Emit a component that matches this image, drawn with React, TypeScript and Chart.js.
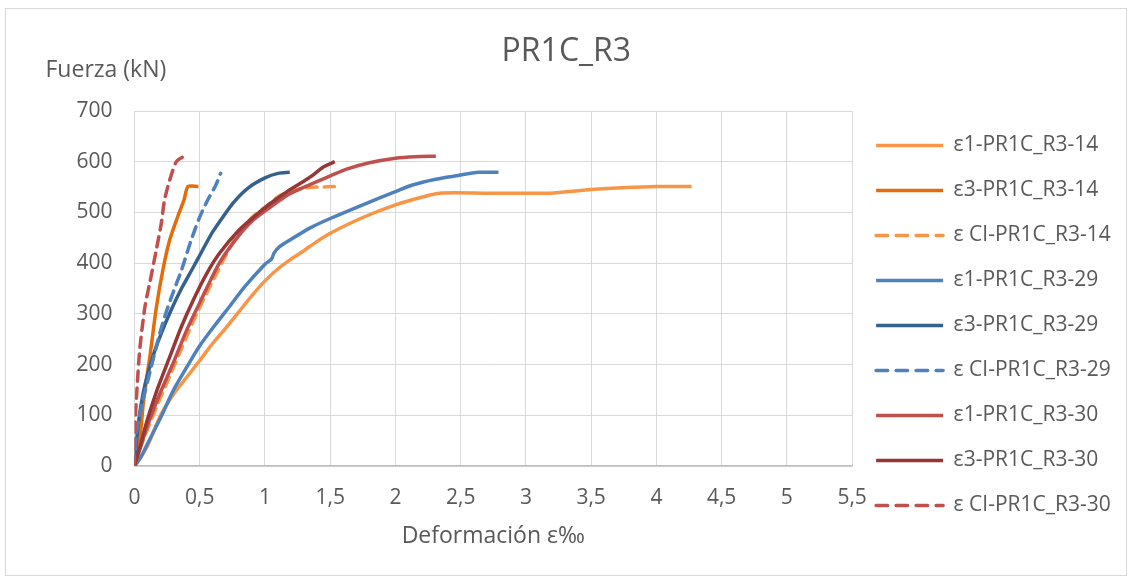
import React, { useEffect, useRef } from 'react';
import { Chart, registerables } from 'chart.js';

Chart.register(...registerables);

const FONT = '"Open Sans", "DejaVu Sans", sans-serif';
const TEXT = '#595959';

const chartTitle = 'PR1C_R3';
const yTitle = 'Fuerza (kN)';
const xTitle = 'Deformación ε‰';

const seriesNames = [
  'ε1-PR1C_R3-14',
  'ε3-PR1C_R3-14',
  'ε CI-PR1C_R3-14',
  'ε1-PR1C_R3-29',
  'ε3-PR1C_R3-29',
  'ε CI-PR1C_R3-29',
  'ε1-PR1C_R3-30',
  'ε3-PR1C_R3-30',
  'ε CI-PR1C_R3-30',
];

const seriesColors = ['#F79646', '#E46C0A', '#F79646', '#4F81BD', '#35618F', '#4F81BD', '#C0504D', '#953735', '#C0504D'];
const seriesDashed = [false, false, true, false, false, true, false, false, true];

// [deformation ‰, force kN]
const e1_14: [number, number][] = [
  [0, 0], [0.05, 18], [0.1, 40], [0.2, 100], [0.3, 142], [0.4, 175], [0.5, 208], [0.6, 242], [0.7, 272],
  [0.8, 304], [0.9, 336], [1.0, 365], [1.1, 389], [1.2, 408], [1.3, 425], [1.4, 443], [1.5, 459],
  [1.75, 490], [2.0, 515], [2.2, 530], [2.34, 538], [2.7, 538], [3.18, 538], [3.5, 545], [3.77, 549],
  [4.0, 551], [4.27, 551],
];
const e3_14: [number, number][] = [
  [0, 0], [0.04, 50], [0.07, 130], [0.12, 220], [0.166, 310], [0.217, 386], [0.27, 446], [0.33, 491],
  [0.38, 525], [0.41, 551], [0.49, 551],
];
const ci_14: [number, number][] = [
  [0, 0], [0.05, 40], [0.17, 117], [0.3, 195], [0.45, 285], [0.6, 365], [0.78, 452], [0.9, 490],
  [1.0, 510], [1.12, 534], [1.3, 548], [1.54, 551],
];
const e1_29: [number, number][] = [
  [0, 0], [0.05, 18], [0.1, 44], [0.2, 95], [0.3, 150], [0.41, 199], [0.5, 237], [0.6, 272], [0.73, 315],
  [0.85, 355], [1.0, 398], [1.05, 408], [1.07, 420], [1.11, 432], [1.2, 447], [1.35, 470], [1.5, 488],
  [1.75, 515], [2.0, 541], [2.13, 554], [2.3, 565], [2.5, 574], [2.64, 579], [2.79, 579],
];
const e3_29: [number, number][] = [
  [0, 0], [0.02, 60], [0.04, 104], [0.08, 160], [0.14, 215], [0.2, 258], [0.28, 307], [0.36, 350],
  [0.44, 387], [0.52, 425], [0.6, 462], [0.68, 492], [0.76, 520], [0.87, 548], [1.0, 568], [1.1, 577], [1.19, 579],
];
const ci_29: [number, number][] = [
  [0, 0], [0.014, 64], [0.065, 130], [0.129, 196], [0.193, 261], [0.245, 305], [0.3, 345], [0.36, 386],
  [0.435, 446], [0.5, 491], [0.56, 524], [0.62, 552], [0.66, 577],
];
const e1_30: [number, number][] = [
  [0, 0], [0.1, 80], [0.195, 143], [0.3, 205], [0.4, 268], [0.5, 322], [0.65, 400], [0.78, 448],
  [0.91, 485], [1.05, 512], [1.17, 534], [1.3, 550], [1.5, 572], [1.62, 585], [1.8, 598], [2.0, 607],
  [2.15, 610], [2.31, 611],
];
const e3_30: [number, number][] = [
  [0, 0], [0.05, 45], [0.09, 84], [0.18, 155], [0.27, 215], [0.36, 275], [0.45, 327], [0.55, 378],
  [0.65, 419], [0.8, 465], [0.96, 501], [1.08, 525], [1.17, 541], [1.3, 562], [1.37, 574], [1.45, 590], [1.535, 600],
];
const ci_30: [number, number][] = [
  [0, 0], [0.002, 65], [0.014, 130], [0.04, 229], [0.08, 314], [0.116, 360], [0.167, 426], [0.205, 478],
  [0.23, 524], [0.27, 564], [0.32, 600], [0.36, 608], [0.41, 613],
];

const seriesData = [e1_14, e3_14, ci_14, e1_29, e3_29, ci_29, e1_30, e3_30, ci_30];

const xMin = 0;
const xMax = 5.5;
const xStep = 0.5;
const yMin = 0;
const yMax = 700;
const yStep = 100;

const lineDash = [10, 7];
const legendDash = [11.5, 8.5];

const yTitlePlugin = {
  id: 'yTitleHorizontal',
  afterDraw(chart: any) {
    const { ctx, chartArea } = chart;
    ctx.save();
    ctx.font = `23px ${FONT}`;
    ctx.fillStyle = TEXT;
    ctx.textAlign = 'left';
    ctx.textBaseline = 'middle';
    ctx.fillText(yTitle, chartArea.left - 89, chartArea.top - 40.5);
    ctx.restore();
  },
};

export default function App() {
  const ref = useRef<HTMLCanvasElement>(null);

  useEffect(() => {
    document.body.style.margin = '0';
    const n = seriesNames.length;
    const datasets = seriesNames.map((name, i) => ({
      label: name,
      data: seriesData[i].map(([x, y]) => ({ x, y })),
      borderColor: seriesColors[i],
      backgroundColor: seriesColors[i],
      borderWidth: 3.5,
      borderDash: seriesDashed[i] ? lineDash : [],
      borderCapStyle: seriesDashed[i] ? 'round' : 'butt',
      borderJoinStyle: 'round',
      pointRadius: 0,
      pointHoverRadius: 0,
      tension: 0.25,
      fill: false,
      order: n - 1 - i,
    }));

    const defaultLabels = (Chart.defaults as any).plugins.legend.labels.generateLabels;

    const chart = new Chart(ref.current as HTMLCanvasElement, {
      type: 'line',
      data: { datasets } as any,
      plugins: [yTitlePlugin],
      options: {
        responsive: false,
        animation: false,
        devicePixelRatio: 1,
        layout: { padding: { left: 12, right: 11.3, top: 0, bottom: 0 } },
        plugins: {
          title: {
            display: true,
            text: chartTitle,
            color: TEXT,
            font: { family: FONT, size: 32, weight: 'normal' },
            padding: { top: 32.8, bottom: 39.8 },
          },
          legend: {
            position: 'right',
            align: 'start',
            title: { display: true, text: '', font: { size: 6.5, lineHeight: 1.2 }, padding: { top: 103.2, bottom: 0 } },
            labels: {
              usePointStyle: true,
              pointStyle: 'line',
              pointStyleWidth: 67,
              boxHeight: 21,
              padding: 24,
              color: TEXT,
              font: { family: FONT, size: 21 },
              sort: (a: any, b: any) => a.datasetIndex - b.datasetIndex,
              generateLabels: (c: any) => {
                const items = defaultLabels(c);
                items.forEach((it: any) => {
                  const i = it.datasetIndex;
                  it.strokeStyle = seriesColors[i];
                  it.fillStyle = seriesColors[i];
                  it.lineWidth = 3.5;
                  it.lineDash = seriesDashed[i] ? legendDash : [];
                  it.lineCap = seriesDashed[i] ? 'round' : 'butt';
                });
                return items;
              },
            },
          },
          tooltip: { enabled: false },
        },
        scales: {
          x: {
            type: 'linear',
            min: xMin,
            max: xMax,
            ticks: {
              stepSize: xStep,
              padding: 19,
              color: TEXT,
              font: { family: FONT, size: 21 },
              maxRotation: 0,
              autoSkip: false,
              callback: (v: any) => String(v).replace('.', ','),
            },
            grid: { color: '#d9d9d9', lineWidth: 1, drawTicks: false },
            border: { display: true, color: '#bfbfbf', width: 1.5 },
            title: {
              display: true,
              text: xTitle,
              color: TEXT,
              font: { family: FONT, size: 23 },
              padding: { top: 13.6, bottom: 32.8 },
            },
            afterFit: (s: any) => {
              s.height = 117;
            },
          },
          y: {
            min: yMin,
            max: yMax,
            ticks: {
              stepSize: yStep,
              padding: 22,
              color: TEXT,
              font: { family: FONT, size: 21 },
            },
            grid: { color: '#d9d9d9', lineWidth: 1, drawTicks: false },
            border: { display: false },
            afterFit: (s: any) => {
              s.width = 122.5;
            },
          },
        },
      } as any,
    });
    return () => chart.destroy();
  }, []);

  return (
    <div style={{ position: 'relative', width: 1132, height: 583, background: '#fff' }}>
      <div
        style={{
          position: 'absolute',
          left: 5,
          top: 8,
          width: 1120,
          height: 566,
          border: '1px solid #d9d9d9',
        }}
      />
      <canvas
        ref={ref}
        width={1132}
        height={583}
        style={{ position: 'absolute', left: 0, top: 0, width: 1132, height: 583 }}
      />
    </div>
  );
}
